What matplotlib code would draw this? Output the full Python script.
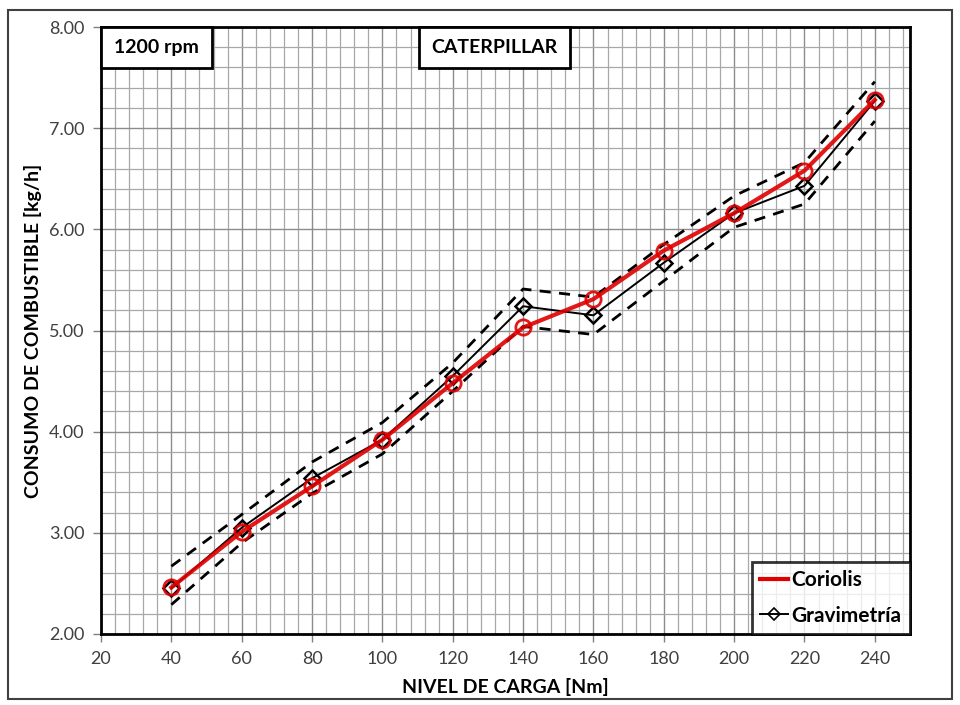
import numpy as np
import matplotlib
matplotlib.use("Agg")
import matplotlib.pyplot as plt
from matplotlib.lines import Line2D
from matplotlib.patches import Rectangle
from matplotlib.ticker import MultipleLocator, FormatStrFormatter

plt.rcParams['font.family'] = ['Lato', 'DejaVu Sans']

# load level [Nm]
carga = [40, 60, 80, 100, 120, 140, 160, 180, 200, 220, 240]
# fuel consumption [kg/h]
coriolis = [2.46, 3.01, 3.46, 3.92, 4.48, 5.03, 5.31, 5.79, 6.16, 6.58, 7.28]
gravimetria = [2.45, 3.05, 3.54, 3.92, 4.55, 5.24, 5.15, 5.67, 6.16, 6.43, 7.27]
# dashed band around gravimetria
grav_sup = [2.67, 3.18, 3.70, 4.09, 4.68, 5.41, 5.33, 5.85, 6.33, 6.66, 7.46]
grav_inf = [2.29, 2.90, 3.39, 3.78, 4.40, 5.04, 4.96, 5.49, 6.02, 6.25, 7.07]

fig = plt.figure(figsize=(9.6, 7.05), dpi=100)
ax = fig.add_axes([101/960, 1-634/705, (910-101)/960, (634-27)/705])

# outer chart border
fig.patches.append(Rectangle((8/960, 1-699/705), 944/960, 689/705,
                             transform=fig.transFigure, fill=False,
                             edgecolor='#404040', lw=1.5))

ax.plot(carga, grav_sup, color='black', ls=(0, (4, 3)), lw=2, zorder=3)
ax.plot(carga, grav_inf, color='black', ls=(0, (4, 3)), lw=2, zorder=3)
ax.plot(carga, gravimetria, color='black', lw=1.4, marker='D', ms=8,
        mfc='none', mec='black', mew=1.8, zorder=4)
ax.plot(carga, coriolis, color='#e00000', lw=3, marker='o', ms=11,
        mfc='none', mec='#e00000', mew=2, zorder=5, alpha=0.9)

ax.set_xlim(20, 250)
ax.set_ylim(2, 8)
ax.xaxis.set_major_locator(MultipleLocator(20))
ax.xaxis.set_minor_locator(MultipleLocator(4))
ax.yaxis.set_major_locator(MultipleLocator(1))
ax.yaxis.set_minor_locator(MultipleLocator(0.2))
ax.yaxis.set_major_formatter(FormatStrFormatter('%.2f'))
ax.set_xticks([20, 40, 60, 80, 100, 120, 140, 160, 180, 200, 220, 240])

ax.grid(which='major', color='#8c8c8c', lw=1.0)
ax.grid(which='minor', color='#a8a8a8', lw=0.9)
ax.set_axisbelow(True)

for s in ax.spines.values():
    s.set_linewidth(2)
    s.set_color('black')

ax.tick_params(which='major', length=6, width=1, color='#808080',
               labelsize=13, labelcolor='#404040', pad=6)
ax.tick_params(which='minor', length=0)

ax.set_xlabel('NIVEL DE CARGA [Nm]', fontsize=14, fontweight='bold', labelpad=8)
ax.set_ylabel('CONSUMO DE COMBUSTIBLE [kg/h]', fontsize=14, fontweight='bold', labelpad=5)

# title boxes flush with the top of the plot area
for x0, x1, txt in [(0.0, 0.137, '1200 rpm'), (0.393, 0.580, 'CATERPILLAR')]:
    ax.add_patch(Rectangle((x0, 0.932), x1 - x0, 0.068, transform=ax.transAxes,
                           fc='white', ec='black', lw=2, zorder=6, clip_on=False))
    ax.text((x0 + x1) / 2, 0.966, txt, transform=ax.transAxes, fontsize=14,
            fontweight='bold', ha='center', va='center', zorder=7)

handles = [Line2D([], [], color='#e00000', lw=3),
           Line2D([], [], color='black', lw=1.4, marker='D', ms=6, mfc='none', mew=1.2)]
leg = ax.legend(handles, ['Coriolis', 'Gravimetría'], loc='lower right',
                frameon=True, fancybox=False, borderaxespad=0,
                handlelength=1.3, handletextpad=0.2, borderpad=0.4,
                labelspacing=0.75, prop={'weight': 'bold', 'size': 15})
leg.get_frame().set_edgecolor('black')
leg.get_frame().set_linewidth(2)
leg.set_zorder(7)

fig.savefig('out.png', dpi=100)
